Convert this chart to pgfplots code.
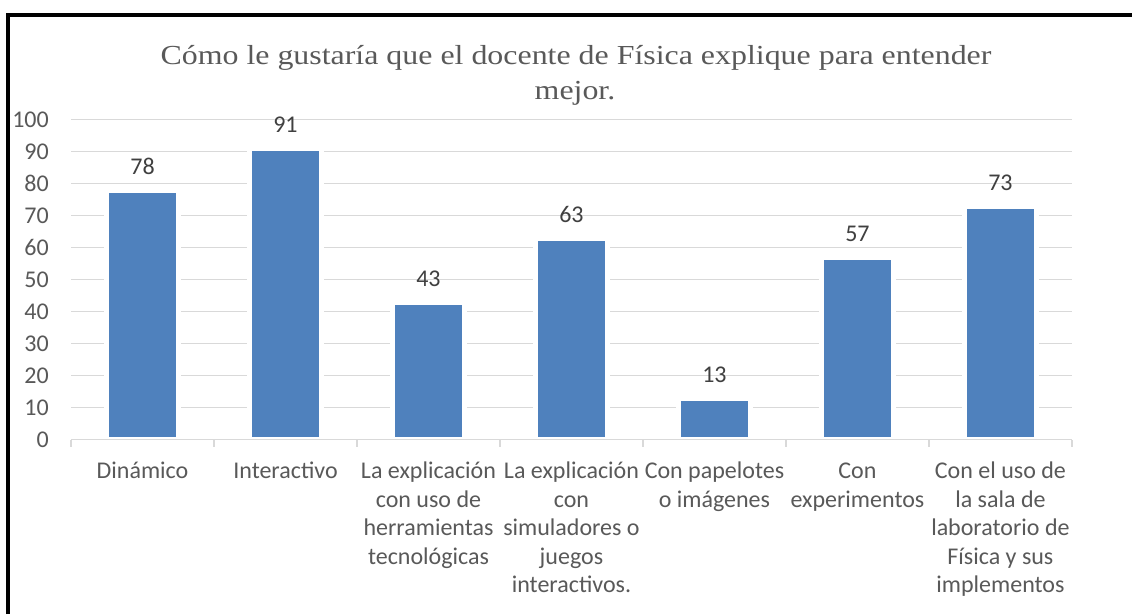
\documentclass[border=0pt]{standalone}
\usepackage{pgfplots}
\pgfplotsset{compat=1.18}
\usepackage{fontspec}
\setmainfont{Carlito}
\newfontfamily\titlefont[FakeStretch=1.16]{Liberation Serif}
\definecolor{barblue}{HTML}{4F81BD}
\definecolor{gridc}{HTML}{D9D9D9}
\definecolor{ticktxt}{HTML}{595959}
\definecolor{labtxt}{HTML}{404040}
% fixed first-line height so every category label starts at the same place
\newcommand\fl{\rule{0pt}{20pt}}

\begin{document}
\begin{tikzpicture}
\useasboundingbox (0,0) rectangle (1132pt,614pt);
\fill[white] (0,0) rectangle (1132pt,614pt);
\draw[line width=4pt] (8pt,0) -- (8pt,599pt) -- (1132pt,599pt);
% title, two lines
\node[anchor=base, inner sep=0pt, text=ticktxt, font=\titlefont\fontsize{27.5}{36}\selectfont]
  at (576pt,549pt) {Cómo le gustaría que el docente de Física explique para entender};
\node[anchor=base, inner sep=0pt, text=ticktxt, font=\titlefont\fontsize{27.5}{36}\selectfont]
  at (575pt,514pt) {mejor.};

\begin{axis}[
  at={(71pt,174.3pt)}, anchor=south west,
  scale only axis, width=1001pt, height=320pt,
  xmin=-0.5, xmax=6.5, ymin=0, ymax=100,
  /pgf/number format/assume math mode=true,
  axis lines*=left,
  y axis line style={draw=none},
  x axis line style={draw=gridc, line width=1.5pt},
  ytick={0,10,...,100},
  ymajorgrids, grid style={gridc, line width=1.2pt},
  ytick style={draw=none},
  yticklabel style={font=\fontsize{24}{29}\selectfont, text=ticktxt, inner sep=0pt, xshift=-22pt},
  xtick={0,...,6},
  xtick style={draw=none},
  xticklabels={{\fl Dinámico}, {\fl Interactivo},
    {\fl La explicación\\con uso de\\herramientas\\tecnológicas},
    {\fl La explicación\\con\\simuladores o\\juegos\\interactivos.},
    {\fl Con papelotes\\o imágenes},
    {\fl Con\\experimentos},
    {\fl Con el uso de\\la sala de\\laboratorio de\\Física y sus\\implementos}},
  xticklabel style={font=\fontsize{24}{28.6}\selectfont, text=ticktxt, align=center,
    anchor=north, inner sep=0pt, yshift=-14.3pt},
  extra x ticks={-0.5,0.5,...,6.5},
  extra x tick labels={},
  extra x tick style={xtick style={draw=gridc, line width=1.2pt},
    major tick length=7pt, tick align=outside, grid=none},
  ybar, bar width=72pt,
  nodes near coords,
  nodes near coords style={font=\fontsize{24}{29}\selectfont, text=labtxt,
    anchor=south, inner sep=0pt, yshift=13pt},
]
\addplot[fill=barblue, draw=white, line width=5pt] coordinates
  {(0,78) (1,91) (2,43) (3,63) (4,13) (5,57) (6,73)};
\draw[gridc, line width=1.5pt] (axis cs:-0.5,0) -- (axis cs:6.5,0);
\end{axis}
\end{tikzpicture}
\end{document}
